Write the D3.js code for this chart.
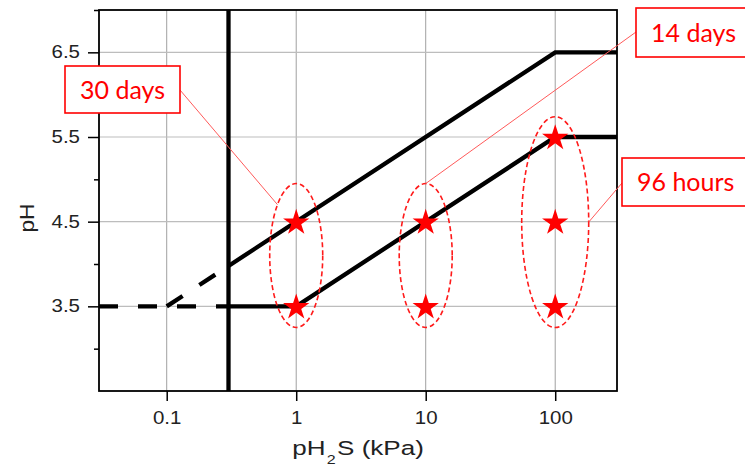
<!DOCTYPE html>
<html><head><meta charset="utf-8">
<script src="https://cdn.jsdelivr.net/npm/d3@7"></script>
<style>body{margin:0;background:#fff}svg{display:block}</style>
</head><body>
<svg id="chart" width="745" height="468"></svg>
<script>
// ---- data ----
const xDomain = [0.03, 300];
const yDomain = [2.5, 7];
const xTicks = [0.1, 1, 10, 100];
const xTickLabels = ["0.1", "1", "10", "100"];
const yTicks = [3.5, 4.5, 5.5, 6.5];
const yTickLabels = ["3.5", "4.5", "5.5", "6.5"];
const yMinorTicks = [3, 4, 5, 6, 7];
const limitX = 0.3;
const lowerDashed = [[0.03, 3.5], [0.3, 3.5]];
const lowerSolid = [[0.3, 3.5], [1, 3.5], [100, 5.5], [300, 5.5]];
const upperDashed = [[0.1, 3.5], [0.3, 3.977]];
const upperSolid = [[0.3, 3.977], [100, 6.5], [300, 6.5]];
const testPoints = [[1, 3.5], [1, 4.5], [10, 3.5], [10, 4.5], [100, 3.5], [100, 4.5], [100, 5.5]];
const groupX = [1, 10, 100];
const groupTop = [4.95, 4.95, 5.74];
const groupBottom = [3.25, 3.25, 3.25];
const groupLabels = ["30 days", "14 days", "96 hours"];

// ---- layout ----
const M = {left: 99, top: 10, right: 617, bottom: 391};
const FONT = "'Liberation Sans', Arial, sans-serif";
const SX = 1.17; // horizontal stretch of the reference's axis text
const svg = d3.select("#chart");
const x = d3.scaleLog().domain(xDomain).range([M.left, M.right]);
const y = d3.scaleLinear().domain(yDomain).range([M.bottom, M.top]);
const W = M.right - M.left, H = M.bottom - M.top;

// grid
svg.append("g").selectAll("line").data(xTicks).join("line")
  .attr("x1", d => x(d)).attr("x2", d => x(d)).attr("y1", M.top).attr("y2", M.bottom)
  .attr("stroke", "#a0a0a0").attr("stroke-width", 1);
svg.append("g").selectAll("line").data(yTicks).join("line")
  .attr("x1", M.left).attr("x2", M.right).attr("y1", d => y(d)).attr("y2", d => y(d))
  .attr("stroke", "#bdbdbd").attr("stroke-width", 1.2);

// axes
const xAxis = d3.axisBottom(x).tickValues(xTicks).tickFormat((d, i) => xTickLabels[i]).tickSize(10).tickPadding(11);
const gx = svg.append("g").attr("transform", `translate(0,${M.bottom})`).call(xAxis);
gx.select(".domain").remove();
gx.selectAll(".tick line").attr("stroke", "#000").attr("stroke-width", 1.5);
gx.selectAll(".tick text").attr("font-family", FONT).attr("font-size", 17.5).attr("fill", "#222")
  .attr("transform", `scale(${SX},1)`);

const yAxis = d3.axisLeft(y).tickValues(yTicks).tickFormat((d, i) => yTickLabels[i]).tickSize(11).tickPadding(8);
const gy = svg.append("g").attr("transform", `translate(${M.left},0)`).call(yAxis);
gy.select(".domain").remove();
gy.selectAll(".tick line").attr("stroke", "#000").attr("stroke-width", 1.5);
gy.selectAll(".tick text").attr("font-family", FONT).attr("font-size", 17.5).attr("fill", "#222")
  .attr("x", -19 / SX).attr("transform", `scale(${SX},1)`);
const yAxisMinor = d3.axisLeft(y).tickValues(yMinorTicks).tickFormat("").tickSize(5);
const gym = svg.append("g").attr("transform", `translate(${M.left},0)`).call(yAxisMinor);
gym.select(".domain").remove();
gym.selectAll(".tick line").attr("stroke", "#000").attr("stroke-width", 1.5);

// frame
svg.append("rect").attr("x", M.left).attr("y", M.top).attr("width", W).attr("height", H)
  .attr("fill", "none").attr("stroke", "#000").attr("stroke-width", 1.8);

// axis titles
const xtG = svg.append("g");
const xt = xtG.append("text").attr("x", 0).attr("y", 0)
  .attr("text-anchor", "middle").attr("font-family", FONT)
  .attr("font-size", 19.5).attr("fill", "#222");
xt.append("tspan").text("pH");
xt.append("tspan").text("2").attr("font-size", 12).attr("dy", 8.5).attr("dx", 1);
xt.append("tspan").text("S (kPa)").attr("dy", -8.5).attr("dx", 1);
const xtw = xt.node().getComputedTextLength() || 100;
xtG.attr("transform", `translate(${(M.left + M.right) / 2},455) scale(${129 / xtw},1)`);

const ytG = svg.append("g");
const yt = ytG.append("text").attr("text-anchor", "middle").attr("font-family", FONT)
  .attr("font-size", 19.5).attr("fill", "#222").text("pH");
const ytw = yt.node().getComputedTextLength() || 25;
ytG.attr("transform", `translate(34,218) rotate(-90) scale(${29 / ytw},1)`);

// boundary lines
const line = d3.line().x(d => x(d[0])).y(d => y(d[1]));
const plot = svg.append("g");
plot.append("line").attr("x1", x(limitX)).attr("x2", x(limitX)).attr("y1", M.top).attr("y2", M.bottom)
  .attr("stroke", "#000").attr("stroke-width", 4.3);
[lowerSolid, upperSolid].forEach(p => plot.append("path").attr("d", line(p))
  .attr("fill", "none").attr("stroke", "#000").attr("stroke-width", 4.3).attr("stroke-linejoin", "miter"));
[lowerDashed, upperDashed].forEach(p => plot.append("path").attr("d", line(p))
  .attr("fill", "none").attr("stroke", "#000").attr("stroke-width", 4.3).attr("stroke-dasharray", "19,20"));

// ellipses
const rxOf = i => i === 2 ? 33.5 : 26.5;
groupX.forEach((gxv, i) => {
  const cy = (y(groupTop[i]) + y(groupBottom[i])) / 2;
  const ry = (y(groupBottom[i]) - y(groupTop[i])) / 2;
  plot.append("ellipse").attr("cx", x(gxv)).attr("cy", cy).attr("rx", rxOf(i)).attr("ry", ry)
    .attr("fill", "none").attr("stroke", "#ff1a1a").attr("stroke-width", 1.6).attr("stroke-dasharray", "5,3");
});

// stars
plot.selectAll("path.star").data(testPoints).join("path").attr("class", "star")
  .attr("d", d3.symbol(d3.symbolStar, 215))
  .attr("transform", d => `translate(${x(d[0])},${y(d[1]) + 1})`)
  .attr("fill", "#ff0000");

// callouts
function ellipsePoint(i, angleDeg) {
  const cy = (y(groupTop[i]) + y(groupBottom[i])) / 2;
  const ry = (y(groupBottom[i]) - y(groupTop[i])) / 2;
  const a = angleDeg * Math.PI / 180;
  return [x(groupX[i]) + rxOf(i) * Math.cos(a), cy - ry * Math.sin(a)];
}
const callouts = [
  {i: 0, box: [65, 66, 115, 47], from: [180, 90], angle: 135},
  {i: 1, box: [636, 8, 115, 49], from: [636, 32], angle: 90},
  {i: 2, box: [622, 158, 130, 48], from: [622, 183], angle: 0}
];
callouts.forEach(c => {
  const to = ellipsePoint(c.i, c.angle);
  svg.append("line").attr("x1", c.from[0]).attr("y1", c.from[1]).attr("x2", to[0]).attr("y2", to[1])
    .attr("stroke", "#ff5a5a").attr("stroke-width", 1);
  svg.append("rect").attr("x", c.box[0]).attr("y", c.box[1]).attr("width", c.box[2]).attr("height", c.box[3])
    .attr("fill", "#fff").attr("stroke", "#ff0000").attr("stroke-width", 1.6);
  svg.append("text").attr("x", c.box[0] + (c.i === 0 ? c.box[2] / 2 : 15)).attr("y", c.box[1] + c.box[3] / 2 + 9)
    .attr("text-anchor", c.i === 0 ? "middle" : "start")
    .attr("font-family", "Lato, sans-serif").attr("font-size", 25).attr("fill", "#ff0000").text(groupLabels[c.i]);
});
</script>
</body></html>
